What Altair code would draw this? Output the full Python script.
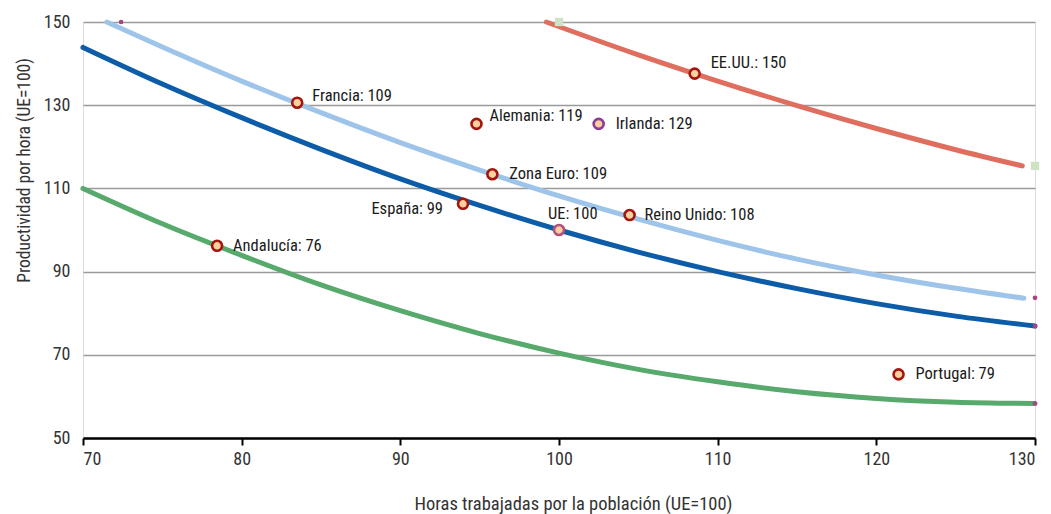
import altair as alt
import pandas as pd

# ---- data ----
ue_x = [70, 75, 80, 85, 90, 95, 100, 105, 110, 115, 120, 125, 130]
ue_y = [143.9, 135.1, 127.0, 119.4, 112.3, 105.9, 100, 94.7, 90.0, 85.9, 82.3, 79.3, 76.9]

ze_x = [71.5, 75, 80, 85, 90, 95, 100, 105, 110, 115, 120, 125, 129.3]
ze_y = [150, 144.0, 135.8, 128.2, 121.0, 114.4, 108.2, 102.6, 97.5, 93.0, 89.2, 86.0, 83.6]

us_x = [99.2, 105, 110, 115, 120, 125, 129.2]
us_y = [150, 142.1, 135.8, 129.9, 124.4, 119.3, 115.4]

an_x = [70, 75, 80, 85, 90, 95, 100, 105, 110, 115, 120, 125, 130]
an_y = [110, 101.5, 93.9, 86.8, 80.6, 75.1, 70.4, 66.5, 63.5, 61.1, 59.5, 58.6, 58.3]

countries = ["Francia", "Alemania", "Irlanda", "Zona Euro", "España", "UE",
             "Reino Unido", "EE.UU.", "Andalucía", "Portugal"]
labels_val = [109, 119, 129, 109, 99, 100, 108, 150, 76, 79]
pt_x = [83.5, 94.8, 102.5, 95.8, 93.95, 100, 104.45, 108.55, 78.45, 121.4]
pt_y = [130.6, 125.5, 125.5, 113.4, 106.3, 100, 103.6, 137.6, 96.2, 65.3]

dot_x = [72.4, 130, 130, 130]
dot_y = [150, 83.7, 76.9, 58.3]
sq_x = [100, 130]
sq_y = [150, 115.4]

x_ticks = [70, 80, 90, 100, 110, 120, 130]
y_ticks = [50, 70, 90, 110, 130, 150]

# ---- styling ----
FONT = "Liberation Sans Narrow, Roboto Condensed, DejaVu Sans Condensed, sans-serif"
curve_colors = {"ue": "#0c5ca8", "ze": "#9ec4ea", "us": "#e06e5e", "an": "#57a96c"}
label_offsets = {
    "Francia": (15, -7, "left"),
    "Alemania": (13, -8, "left"),
    "Irlanda": (17, 0, "left"),
    "Zona Euro": (17, 0, "left"),
    "España": (-20, 5, "right"),
    "UE": (-11, -16, "left"),
    "Reino Unido": (15, 0, "left"),
    "EE.UU.": (16, -11, "left"),
    "Andalucía": (16, 0, "left"),
    "Portugal": (17, 0, "left"),
}
stroke_colors = {"Irlanda": "#8a3c96", "UE": "#b4507e"}

xscale = alt.Scale(domain=[70, 130], nice=False, zero=False)
yscale = alt.Scale(domain=[50, 150], nice=False, zero=False)

xax = alt.Axis(values=x_ticks, title="Horas trabajadas por la población (UE=100)",
               grid=False, domainColor="#000000", domainWidth=2.5, tickColor="#000000",
               tickWidth=2, tickSize=7, labelFont=FONT, labelFontSize=18, labelColor="#333333",
               labelPadding=5, titleFont=FONT, titleFontSize=18.5, titleFontWeight="normal",
               titleColor="#333333", titlePadding=26, titleX=490)
yax = alt.Axis(values=y_ticks, title="Productividad por hora (UE=100)",
               grid=True, gridColor="#9a9a9a", gridWidth=1.5, domain=False, ticks=False,
               labelFont=FONT, labelFontSize=18, labelColor="#333333", labelPadding=13,
               titleFont=FONT, titleFontSize=17.5, titleFontWeight="normal",
               titleColor="#333333", titlePadding=10, titleY=148)

def curve(xs, ys, key):
    df = pd.DataFrame({"x": xs, "y": ys, "o": range(len(xs))})
    return alt.Chart(df).mark_line(color=curve_colors[key], strokeWidth=5,
                                   strokeCap="round", interpolate="monotone").encode(
        x=alt.X("x:Q", scale=xscale, axis=xax),
        y=alt.Y("y:Q", scale=yscale, axis=yax),
        order="o:Q")

base_grid = alt.Chart(pd.DataFrame({"x": [70], "y": [50]})).mark_point(opacity=0).encode(
    x=alt.X("x:Q", scale=xscale, axis=xax), y=alt.Y("y:Q", scale=yscale, axis=yax))

layers = [base_grid,
          curve(ze_x, ze_y, "ze"), curve(ue_x, ue_y, "ue"),
          curve(an_x, an_y, "an"), curve(us_x, us_y, "us")]

dots = alt.Chart(pd.DataFrame({"x": dot_x, "y": dot_y})).mark_circle(
    color="#a8447e", size=22, opacity=1).encode(
    x=alt.X("x:Q", scale=xscale), y=alt.Y("y:Q", scale=yscale))
squares = alt.Chart(pd.DataFrame({"x": sq_x, "y": sq_y})).mark_square(
    color="#cde3c4", size=70, opacity=1).encode(
    x=alt.X("x:Q", scale=xscale), y=alt.Y("y:Q", scale=yscale))
layers += [dots, squares]

pts = pd.DataFrame({"name": countries, "val": labels_val, "x": pt_x, "y": pt_y})
pts["label"] = pts["name"] + ": " + pts["val"].astype(str)

for name in countries:
    sub = pts[pts["name"] == name]
    layers.append(alt.Chart(sub).mark_point(
        filled=True, fill="#fbcf9e", stroke=stroke_colors.get(name, "#a3150f"),
        strokeWidth=2.6, size=100, opacity=1, fillOpacity=1, shape="circle").encode(
        x=alt.X("x:Q", scale=xscale), y=alt.Y("y:Q", scale=yscale)))
    dx, dy, al = label_offsets[name]
    layers.append(alt.Chart(sub).mark_text(
        dx=dx, dy=dy, align=al, baseline="middle", font=FONT, fontSize=16.5,
        color="#1a1a1a").encode(
        x=alt.X("x:Q", scale=xscale), y=alt.Y("y:Q", scale=yscale), text="label:N"))

chart = alt.layer(*layers).properties(
    width=952, height=416,
    autosize=alt.AutoSizeParams(type="none"),
    padding={"left": 75, "top": 14, "right": 8, "bottom": 76},
).configure_view(stroke=None).configure(background="white")

chart.save("out.html", embed_options={"renderer": "svg", "actions": False})
